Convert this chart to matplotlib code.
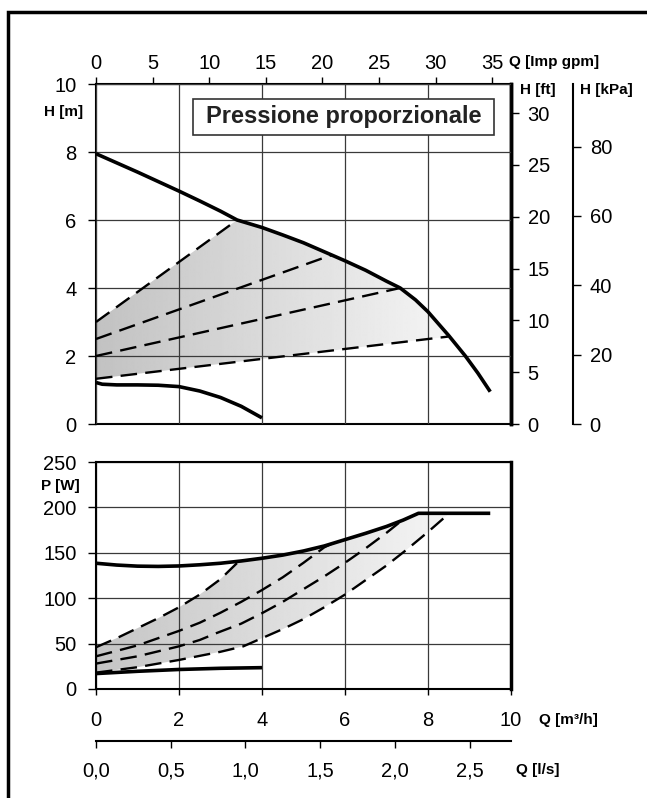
import numpy as np
import matplotlib.pyplot as plt
from matplotlib.patches import Polygon, Rectangle
from matplotlib.ticker import FuncFormatter

plt.rcParams['font.family'] = ['Liberation Sans', 'DejaVu Sans']

# ---- data (Q in m3/h) ----
# head curves, H [m]
q_hmax = [0, 0.5, 1, 1.5, 2, 2.5, 3, 3.4, 4, 4.5, 5, 5.68, 6, 6.5, 7, 7.33, 7.7, 8, 8.5, 8.9, 9.2, 9.5]
h_max = [7.95, 7.68, 7.41, 7.13, 6.85, 6.56, 6.26, 6.0, 5.78, 5.56, 5.33, 4.97, 4.8, 4.52, 4.2, 4.0, 3.65, 3.3, 2.6, 2.0, 1.5, 0.95]
q_hmin = [0, 0.15, 0.5, 1, 1.5, 2, 2.5, 3, 3.5, 4]
h_min = [1.22, 1.17, 1.15, 1.15, 1.14, 1.1, 0.97, 0.78, 0.52, 0.18]
# proportional pressure lines (start / end)
pp_q = [[0, 3.4], [0, 5.68], [0, 7.33], [0, 8.48]]
pp_h = [[3.0, 6.0], [2.5, 4.97], [2.0, 4.0], [1.33, 2.57]]

# power curves, P [W]
q_pmax = [0, 0.5, 1, 1.5, 2, 2.5, 3, 3.5, 4, 4.5, 5, 5.5, 6, 6.5, 7, 7.4, 7.77, 9.5]
p_max = [138.5, 136.5, 135.3, 135, 135.5, 136.8, 138.5, 141, 144, 147.5, 152, 157.5, 164.5, 171.5, 179, 186, 193.5, 193.5]
q_pmin = [0, 1, 2, 3, 4]
p_min = [17, 19.5, 21.5, 22.8, 23.5]
pq1 = [0, 0.5, 1, 1.5, 2, 2.5, 3, 3.45]
pp1 = [46, 56, 67, 78, 90, 104, 121, 141]
pq2 = [0, 1, 2, 2.5, 3, 3.5, 4, 4.5, 5, 5.5, 5.68]
pp2 = [36, 48, 64, 73, 84, 96, 109, 123, 139, 156, 160]
pq3 = [0, 1, 2, 2.5, 2.9, 3.5, 4, 4.5, 5, 5.5, 6, 6.5, 7, 7.3]
pp3 = [28, 36, 47, 54, 61.5, 72, 83.5, 96, 110, 124, 139, 155, 172, 183]
pq4 = [0, 1, 2, 3, 3.55, 4, 4.5, 5, 5.5, 6, 6.5, 7, 7.5, 8, 8.5]
pp4 = [18, 24, 32, 41, 47, 56, 66, 77, 90, 104, 120, 136, 154, 173, 193]

q_ticks = [0, 2, 4, 6, 8, 10]
h_ticks = [0, 2, 4, 6, 8, 10]
p_ticks = [0, 50, 100, 150, 200, 250]
gpm_ticks = [0, 5, 10, 15, 20, 25, 30, 35]
ft_ticks = [0, 5, 10, 15, 20, 25, 30]
kpa_ticks = [0, 20, 40, 60, 80]
ls_ticks = [0, 0.5, 1.0, 1.5, 2.0, 2.5]

W, H = 647, 798
fig = plt.figure(figsize=(W / 100, H / 100), dpi=100)


def px_axes(left, top, right, bottom):
    return fig.add_axes([left / W, 1 - bottom / H, (right - left) / W, (bottom - top) / H])


def ftext(x, y, s, **kw):
    fig.text(x / W, 1 - y / H, s, **kw)


def gradient_fill(ax, verts, x0, x1, g0, g1, ymax):
    poly = Polygon(verts, closed=True, facecolor='none', edgecolor='none')
    ax.add_patch(poly)
    grad = np.linspace(g0, g1, 256).reshape(1, -1)
    im = ax.imshow(grad, extent=[x0, x1, 0, ymax], cmap='gray', vmin=0, vmax=1,
                   aspect='auto', zorder=1, interpolation='bilinear')
    im.set_clip_path(poly)


grid_kw = dict(color='#3a3a3a', lw=0.9)
solid_kw = dict(color='black', lw=2.6, solid_capstyle='butt', zorder=4)
dash_kw = dict(color='black', lw=1.7, dashes=(7, 3.5), zorder=3)
tick_font = 14.5
lab_font = 11

# ---------------- top chart: head ----------------
ax1 = px_axes(96, 84, 511, 424)
verts = [(pp_q[0][0], pp_h[0][0]), (pp_q[0][1], pp_h[0][1])]
verts += [(q, h) for q, h in zip(q_hmax, h_max) if pp_q[0][1] < q < pp_q[3][1]]
verts += [(pp_q[3][1], pp_h[3][1]), (pp_q[3][0], pp_h[3][0])]
gradient_fill(ax1, verts, 0, 8.5, 0.76, 0.96, 10)

for qq, hh in zip(pp_q, pp_h):
    ax1.plot(qq, hh, **dash_kw)
ax1.plot(q_hmax, h_max, **solid_kw)
ax1.plot(q_hmin, h_min, **solid_kw)

ax1.set_xlim(0, 10)
ax1.set_ylim(0, 10)
ax1.set_xticks(q_ticks)
ax1.set_yticks(h_ticks)
ax1.grid(True, **grid_kw)
ax1.set_axisbelow(False)
ax1.tick_params(axis='x', length=0, labelbottom=False)
ax1.tick_params(axis='y', direction='out', length=6, width=1, pad=8, labelsize=tick_font)
for side in ['left', 'top', 'bottom']:
    ax1.spines[side].set_linewidth(1.5)
ax1.spines['right'].set_linewidth(2.5)

gpm = ax1.secondary_xaxis('top', functions=(lambda q: q * 3.666, lambda g: g / 3.666))
gpm.set_xticks(gpm_ticks)
gpm.tick_params(direction='out', length=5, width=1, pad=3, labelsize=tick_font)

ft = ax1.secondary_yaxis('right', functions=(lambda h: h * 3.2808, lambda f: f / 3.2808))
ft.set_yticks(ft_ticks)
ft.tick_params(direction='out', length=6, width=1, pad=6, labelsize=tick_font)
ft.spines['right'].set_linewidth(2.5)

kpa = ax1.secondary_yaxis((573 - 96) / 415, functions=(lambda h: h * 9.80665, lambda p: p / 9.80665))
kpa.set_yticks(kpa_ticks)
kpa.tick_params(direction='out', length=6, width=1, pad=6, labelsize=tick_font)
kpa.spines['right'].set_linewidth(1.5)

# title box
fig.patches.append(Rectangle((193 / W, 1 - 135 / H), 301 / W, 36 / H, transform=fig.transFigure,
                             facecolor='white', edgecolor='#333333', lw=1.2, zorder=5))
ftext(343.5, 117, 'Pressione proporzionale', fontsize=17, fontweight='bold', color='#222222',
      ha='center', va='center', zorder=6)

# ---------------- bottom chart: power ----------------
ax2 = px_axes(96, 462, 511, 689)
verts = list(zip(pq1, pp1))
verts += [(q, p) for q, p in zip(q_pmax, p_max) if pq1[-1] < q < pq4[-1]]
verts += [(pq4[-1], p_max[-1])]
verts += list(zip(pq4[::-1], pp4[::-1]))
gradient_fill(ax2, verts, 0, 8.5, 0.77, 0.96, 250)

for qq, pp in [(pq1, pp1), (pq2, pp2), (pq3, pp3), (pq4, pp4)]:
    ax2.plot(qq, pp, **dash_kw)
ax2.plot(q_pmax, p_max, **solid_kw)
ax2.plot(q_pmin, p_min, **solid_kw)

ax2.set_xlim(0, 10)
ax2.set_ylim(0, 250)
ax2.set_xticks(q_ticks)
ax2.set_yticks(p_ticks)
ax2.grid(True, **grid_kw)
ax2.tick_params(axis='x', direction='out', length=4, width=1, pad=12, labelsize=tick_font)
ax2.tick_params(axis='y', direction='out', length=6, width=1, pad=8, labelsize=tick_font)
for side in ['left', 'top', 'bottom']:
    ax2.spines[side].set_linewidth(1.5)
ax2.spines['right'].set_linewidth(2.5)

ls = ax2.secondary_xaxis(-(741 - 689) / 227, functions=(lambda q: q / 3.6, lambda l: l * 3.6))
ls.set_xticks(ls_ticks)
ls.xaxis.set_major_formatter(FuncFormatter(lambda v, pos: f'{v:.1f}'.replace('.', ',')))
ls.tick_params(direction='out', length=5, width=1, pad=10, labelsize=tick_font)
ls.spines['bottom'].set_linewidth(1.5)

# unit labels
bold = dict(fontsize=lab_font, fontweight='bold', va='center')
ftext(64, 112, 'H [m]', ha='center', **bold)
ftext(60, 486, 'P [W]', ha='center', **bold)
ftext(509, 62, 'Q [Imp gpm]', ha='left', **bold)
ftext(520, 90, 'H [ft]', ha='left', **bold)
ftext(580, 90, 'H [kPa]', ha='left', **bold)
ftext(539, 720, 'Q [m³/h]', ha='left', **bold)
ftext(516, 770, 'Q [l/s]', ha='left', **bold)

# outer frame (cropped at right and bottom)
fig.patches.append(Rectangle((8 / W, -0.1), 2, 1.1 - 12 / H, transform=fig.transFigure,
                             fill=False, edgecolor='black', lw=2.5))

fig.savefig('out.png', dpi=100)
